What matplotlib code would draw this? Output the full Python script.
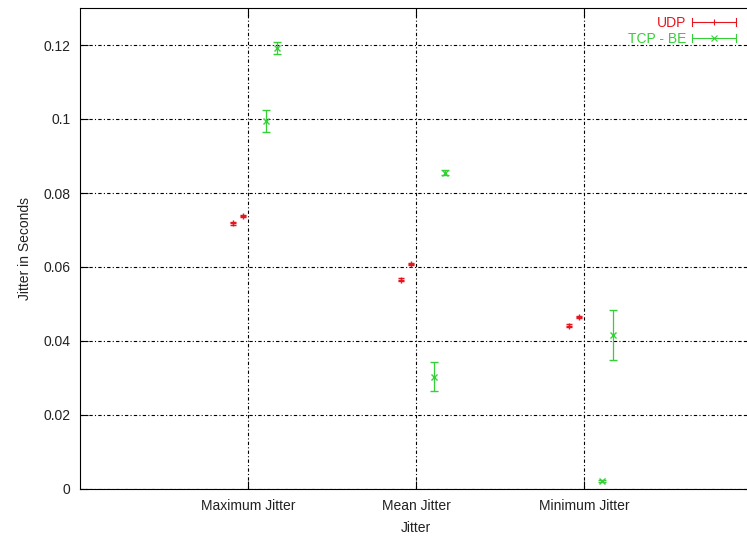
import matplotlib
matplotlib.use("Agg")
import matplotlib.pyplot as plt
from matplotlib.legend_handler import HandlerBase
from matplotlib.lines import Line2D
import numpy as np

plt.rcParams['font.family'] = ['Liberation Sans', 'DejaVu Sans']

categories = ['Maximum Jitter', 'Mean Jitter', 'Minimum Jitter']
cat_pos = [1, 2, 3]

# UDP, two runs per category
udp_a = [0.0718, 0.0565, 0.0441]
udp_a_err = [0.0004, 0.0004, 0.0004]
udp_b = [0.0738, 0.0609, 0.0465]
udp_b_err = [0.0003, 0.0003, 0.0003]

# TCP - BE, two runs per category
tcp_a = [0.0995, 0.0304, 0.0022]
tcp_a_err = [0.0030, 0.0039, 0.0003]
tcp_b = [0.1192, 0.0855, 0.0417]
tcp_b_err = [0.0015, 0.0006, 0.0068]

yticks = [0, 0.02, 0.04, 0.06, 0.08, 0.1, 0.12]
ytick_labels = ['0', '0.02', '0.04', '0.06', '0.08', '0.1', '0.12']

red = '#e8141e'
green = '#35d035'


# gnuplot style key sample: line with caps at both ends, marker in middle
class GnuKey(HandlerBase):
    def create_artists(self, legend, orig_handle, xdescent, ydescent,
                       width, height, fontsize, trans):
        c = orig_handle.get_color()
        m = orig_handle.get_marker()
        y = height / 2 - ydescent
        x0, x1 = -xdescent, width - xdescent
        ln = Line2D([x0, x1], [y, y], color=c, lw=0.8, transform=trans)
        cap0 = Line2D([x0, x0], [y - 3, y + 3], color=c, lw=0.8, transform=trans)
        cap1 = Line2D([x1, x1], [y - 3, y + 3], color=c, lw=0.8, transform=trans)
        mk = Line2D([(x0 + x1) / 2], [y], color=c, marker=m, ms=5, mew=0.8,
                    lw=0, transform=trans)
        return [ln, cap0, cap1, mk]


fig = plt.figure(figsize=(7.47, 5.38), dpi=100)
ax = fig.add_axes([80 / 747, 49 / 538, 672 / 747, 481 / 538])

x = np.array(cat_pos, dtype=float)
kw = dict(lw=0, elinewidth=0.9, capthick=0.9, ms=5, mew=1.0)
ax.errorbar(x - 0.09, udp_a, yerr=udp_a_err, fmt='+', color=red, capsize=2.5, **kw)
ax.errorbar(x - 0.03, udp_b, yerr=udp_b_err, fmt='+', color=red, capsize=2.5, **kw)
ax.errorbar(x + 0.11, tcp_a, yerr=tcp_a_err, fmt='x', color=green, capsize=3, **kw)
ax.errorbar(x + 0.175, tcp_b, yerr=tcp_b_err, fmt='x', color=green, capsize=3, **kw)

ax.set_xlim(0, 4)
ax.set_ylim(0, 0.13)
ax.set_xticks(cat_pos)
ax.set_xticklabels(categories)
ax.set_yticks(yticks)
ax.set_yticklabels(ytick_labels)
ax.tick_params(direction='in', length=6, width=0.8, top=True, right=True,
               labelsize=10, pad=7, labelcolor='#222222')
ax.grid(True, color='black', lw=0.8, linestyle=(0, (3, 2, 1, 2)))
for s in ax.spines.values():
    s.set_linewidth(0.8)

ax.set_xlabel('Jitter', fontsize=10, labelpad=6, color='#222222')
ax.set_ylabel('Jitter in Seconds', fontsize=10, labelpad=8, color='#222222')

h_udp = Line2D([], [], color=red, marker='+')
h_tcp = Line2D([], [], color=green, marker='x')
leg = ax.legend([h_udp, h_tcp], ['UDP', 'TCP - BE'], handler_map={Line2D: GnuKey()},
                loc='upper right', bbox_to_anchor=(736 / 747, 1 - 16 / 538),
                bbox_transform=fig.transFigure, frameon=False, markerfirst=False,
                fontsize=10, handlelength=3.2, handletextpad=0.4,
                labelspacing=0.15, borderpad=0, borderaxespad=0)
leg.get_texts()[0].set_color(red)
leg.get_texts()[1].set_color(green)

fig.savefig('out.png', dpi=100)
